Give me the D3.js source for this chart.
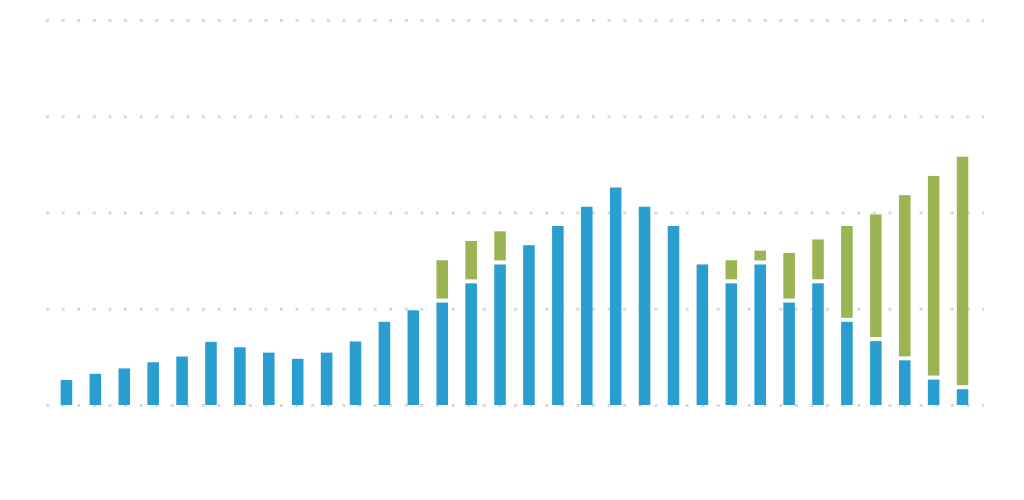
<!DOCTYPE html>
<html><head><meta charset="utf-8">
<script src="https://cdn.jsdelivr.net/npm/d3@7"></script>
<style>html,body{margin:0;padding:0;background:#fff;}svg{display:block;}</style>
</head><body>
<svg id="chart" width="1024" height="500"></svg>
<script>
const categories = d3.range(1, 33).map(String);
const blueValues = [6.5,8.1,9.5,11.1,12.6,16.4,15.0,13.6,12.0,13.6,16.5,21.6,24.6,26.6,31.6,36.5,41.5,46.5,51.5,56.5,51.5,46.5,36.5,31.6,36.5,26.6,31.6,21.6,16.6,11.6,6.6,4.1];
const greenValues = [0,0,0,0,0,0,0,0,0,0,0,0,0,11.0,11.0,8.6,0,0,0,0,0,0,0,6.0,3.6,12.9,11.4,24.9,32.9,42.9,52.9,60.4];
const gridTicks = [0,25,50,75,100];

const svg = d3.select("#chart");
const x = d3.scaleBand().domain(categories).range([52, 977]).paddingInner(0.6).paddingOuter(0.3);
const y = d3.scaleLinear().domain([0,100]).range([405,20]);

const grid = svg.append("g").attr("transform","translate(46,0)")
  .call(d3.axisLeft(y).tickValues(gridTicks).tickSize(-938).tickFormat(""));
grid.select(".domain").remove();
grid.selectAll(".tick line").attr("stroke","#d6d9df").attr("stroke-width",3)
  .attr("stroke-dasharray","3,12.6");

const data = categories.map((c,i)=>({c, b: blueValues[i], g: greenValues[i]}));
const gap = 4;
svg.append("g").selectAll("rect").data(data).join("rect")
  .attr("x", d=>x(d.c)).attr("width", x.bandwidth())
  .attr("y", d=>y(d.b)).attr("height", d=>y(0)-y(d.b))
  .attr("fill","#299ecf");
svg.append("g").selectAll("rect").data(data.filter(d=>d.g>0)).join("rect")
  .attr("x", d=>x(d.c)).attr("width", x.bandwidth())
  .attr("y", d=>y(d.b+d.g)).attr("height", d=>Math.max(0, y(d.b)-y(d.b+d.g)-gap))
  .attr("fill","#9cb554");
</script>
</body></html>
